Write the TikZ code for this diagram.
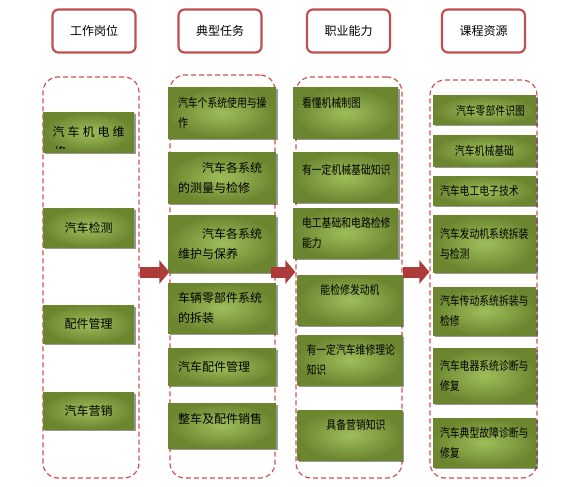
\documentclass[tikz,border=0pt]{standalone}
\usepackage{fontspec}
\usepackage{tikz}
\usetikzlibrary{arrows.meta,shadows}
\newfontfamily\zh{Noto Sans CJK SC}
\newfontfamily\zhnarrow[FakeStretch=0.82]{Noto Sans CJK SC}
\definecolor{hdred}{RGB}{192,80,77}
\definecolor{dashred}{RGB}{210,80,80}
\definecolor{arrred}{RGB}{172,60,57}
\definecolor{olivelight}{RGB}{158,190,90}
\definecolor{olivedark}{RGB}{108,134,48}

\begin{document}
\begin{tikzpicture}[x=1pt, y=-1pt,
    header/.style={draw=hdred, line width=2.2pt, rounded corners=6pt, fill=white,
      minimum width=83pt, minimum height=43pt, font=\zh\fontsize{12}{14}\selectfont},
    column/.style={draw=dashred, dash pattern=on 5pt off 3pt, line width=1.2pt,
      rounded corners=15pt},
    card/.style={shading=radial, inner color=olivelight, outer color=olivedark,
      drop shadow={shadow xshift=1.5pt, shadow yshift=-1.5pt, fill=black, opacity=.4},
      inner ysep=0pt, align=left, font=\zh\fontsize{12}{20}\selectfont},
    small/.style={font=\zhnarrow\fontsize{12}{20}\selectfont},
    jobcol/.style={card, inner xsep=10pt, text width=71pt, align=center},
    taskcol/.style={card, inner xsep=10pt, text width=88pt},
    skillcol/.style={card, small, inner xsep=9pt, text width=87pt},
    coursecol/.style={card, small, inner xsep=7pt, text width=89pt},
    flow/.style={arrred, line width=11pt, -{Triangle[width=23pt,length=10pt]}}
  ]
  \useasboundingbox (0,0) rectangle (587,487);

  % Headers
  \node[header] (h1) at (94,31) {工作岗位};
  \node[header] (h2) at (220,31) {典型任务};
  \node[header] (h3) at (348.5,31) {职业能力};
  \node[header] (h4) at (483.5,31) {课程资源};

  % Dashed columns
  \node[column, minimum width=96pt, minimum height=401pt] (c1) at (91,277.5) {};
  \node[column, minimum width=105pt, minimum height=403pt] (c2) at (222.5,276.5) {};
  \node[column, minimum width=106pt, minimum height=401pt] (c3) at (349,277.5) {};
  \node[column, minimum width=107pt, minimum height=398pt] (c4) at (483.5,279) {};

  % Job positions
  \node[jobcol, minimum height=39pt] (p1) at (88.5,132.5) {};
  \begin{scope}
    \clip (p1.north west) rectangle ([yshift=4pt]p1.south east);
    \node[anchor=base, font=\zh\fontsize{12}{20}\selectfont, inner sep=0pt] (p1a) at (88.5,136)
      {汽\hspace{3pt}车\hspace{3pt}机\hspace{3pt}电\hspace{3pt}维};
    \node[anchor=base, font=\zh\fontsize{12}{20}\selectfont, inner sep=0pt] (p1b) at (60,156) {修};
  \end{scope}
  \node[jobcol, minimum height=39pt] (p2) at (88.5,227.5) {汽车检测};
  \node[jobcol, minimum height=38pt] (p3) at (88.5,324) {配件管理};
  \node[jobcol, minimum height=37pt] (p4) at (88.5,410.5) {汽车营销};

  % Typical tasks
  \node[taskcol, small, minimum height=50pt] (t1) at (222,113) {汽车个系统使用与操\\作};
  \node[taskcol, minimum height=51pt] (t2) at (222,177.5) {\hspace*{2em}汽车各系统\\的测量与检修};
  \node[taskcol, minimum height=57pt] (t3) at (222,243.5) {\hspace*{2em}汽车各系统\\维护与保养};
  \node[taskcol, minimum height=50pt] (t4) at (222,308) {车辆零部件系统\\的拆装};
  \node[taskcol, minimum height=37pt] (t5) at (222,366.5) {汽车配件管理};
  \node[taskcol, minimum height=45pt] (t6) at (222,425.5) {整车及配件销售\\[-6pt]\phantom{字}};

  % Professional abilities
  \node[skillcol, minimum height=50pt] (s1) at (345.5,113) {看懂机械制图\\\phantom{字}};
  \node[skillcol, minimum height=50pt] (s2) at (345.5,177) {有一定机械基础知识\\[-6pt]\phantom{字}};
  \node[skillcol, minimum height=50pt] (s3) at (345.5,233) {电工基础和电路检修\\能力};
  \node[skillcol, minimum height=50pt, align=center] (s4) at (350,300) {能检修发动机\\\phantom{字}};
  \node[skillcol, minimum height=50pt] (s5) at (350,360) {有一定汽车维修理论\\知识};
  \node[skillcol, minimum height=50pt, align=center] (s6) at (350,435) {\hspace*{1em}具备营销知识\\\phantom{字}};

  % Course resources
  \node[coursecol, minimum height=29pt, align=center] (r1) at (484.5,110.5) {\hspace*{1em}汽车零部件识图};
  \node[coursecol, minimum height=31pt, align=center] (r2) at (484.5,150.5) {汽车机械基础};
  \node[coursecol, minimum height=29pt] (r3) at (484.5,190.5) {汽车电工电子技术};
  \node[coursecol, minimum height=57pt] (r4) at (484.5,243.5) {汽车发动机系统拆装\\与检测};
  \node[coursecol, minimum height=48pt] (r5) at (484.5,311) {汽车传动系统拆装与\\检修};
  \node[coursecol, minimum height=55pt] (r6) at (484.5,375.5) {汽车电器系统诊断与\\修复};
  \node[coursecol, minimum height=49pt] (r7) at (484.5,442.5) {汽车典型故障诊断与\\修复};

  % Arrows between columns
  \coordinate (lane) at (0,272);
  \draw[flow] (c1.east |- lane) -- (c2.west |- lane);
  \draw[flow, shorten <=-5pt] (c2.east |- lane) -- (c3.west |- lane);
  \draw[flow] (c3.east |- lane) -- (c4.west |- lane);
\end{tikzpicture}
\end{document}
